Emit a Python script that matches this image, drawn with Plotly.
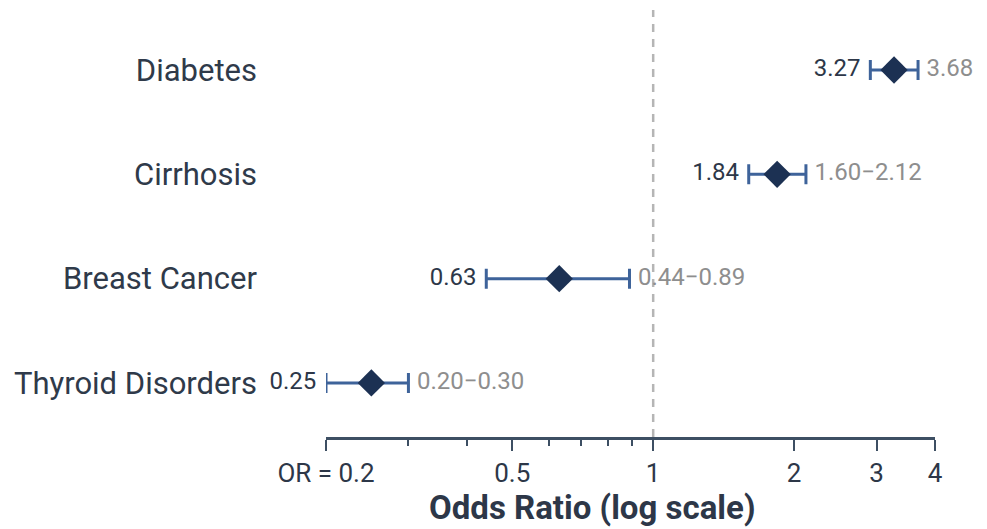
import numpy as np
import plotly.graph_objects as go

# Forest plot data: odds ratios with 95% confidence intervals
conditions = ["Thyroid Disorders", "Breast Cancer", "Cirrhosis", "Diabetes"]
odds_ratio = [0.25, 0.63, 1.84, 3.27]
ci_lower = [0.20, 0.44, 1.60, 2.91]
ci_upper = [0.30, 0.89, 2.12, 3.68]
or_labels = ["0.25", "0.63", "1.84", "3.27"]
ci_labels = ["0.20\u22120.30", "0.44\u22120.89", "1.60\u22122.12", "3.68"]

major_ticks = [0.2, 0.5, 1, 2, 3, 4]
major_tick_text = ["OR = 0.2", "0.5", "1", "2", "3", "4"]
minor_ticks = [0.3, 0.4, 0.6, 0.7, 0.8, 0.9]

FONT = "Roboto"
DARK = "#2d3748"
AXIS = "#3d4f63"
NAVY = "#1c3153"
BAR = "#3e639a"
GREY = "#8e8e8e"

rows = list(range(len(conditions)))
or_arr = np.array(odds_ratio)
lo_arr = np.array(ci_lower)
hi_arr = np.array(ci_upper)

fig = go.Figure()

# confidence interval whiskers with the point estimate as a diamond
fig.add_trace(go.Scatter(
    x=odds_ratio, y=rows, mode="markers",
    marker=dict(symbol="diamond", size=21, color=NAVY, line=dict(width=0)),
    error_x=dict(type="data", symmetric=False,
                 array=(hi_arr - or_arr).tolist(),
                 arrayminus=(or_arr - lo_arr).tolist(),
                 color=BAR, thickness=3, width=10),
    hoverinfo="skip", cliponaxis=False, showlegend=False,
))

# point-estimate labels left of each interval
fig.add_trace(go.Scatter(
    x=ci_lower, y=rows, mode="markers+text",
    marker=dict(size=14, color="rgba(0,0,0,0)"),
    text=or_labels, textposition="middle left",
    textfont=dict(family=FONT, size=24, color=DARK),
    hoverinfo="skip", cliponaxis=False, showlegend=False,
))

# interval labels right of each interval
fig.add_trace(go.Scatter(
    x=ci_upper, y=rows, mode="markers+text",
    marker=dict(size=12, color="rgba(0,0,0,0)"),
    text=ci_labels, textposition="middle right",
    textfont=dict(family=FONT, size=24, color=GREY),
    hoverinfo="skip", cliponaxis=False, showlegend=False,
))

# reference line at OR = 1
fig.add_shape(type="line", xref="x", yref="paper", x0=1, x1=1, y0=0, y1=1,
              line=dict(color="#b5b5b5", width=2.5, dash="8px,7px"), layer="below")

# axis title
fig.add_annotation(text="<b>Odds Ratio (log scale)</b>", xref="paper", yref="paper",
                   x=0.438, y=-0.164, xanchor="center", yanchor="middle",
                   showarrow=False, font=dict(family=FONT, size=33, color=DARK))

fig.update_layout(
    width=987, height=529,
    margin=dict(l=326, r=52, t=10, b=92),
    paper_bgcolor="white", plot_bgcolor="white",
    font=dict(family=FONT, color=DARK),
    showlegend=False,
    xaxis=dict(
        type="log",
        range=[np.log10(0.2), np.log10(4)],
        tickvals=major_ticks, ticktext=major_tick_text,
        tickfont=dict(family=FONT, size=26, color=DARK),
        ticks="outside", ticklen=11, tickwidth=2, tickcolor=AXIS,
        minor=dict(tickvals=minor_ticks, ticks="outside", ticklen=6,
                   tickwidth=2, tickcolor=AXIS, showgrid=False),
        showline=True, linecolor=AXIS, linewidth=2.5,
        showgrid=False, zeroline=False,
    ),
    yaxis=dict(
        range=[-0.518, 3.575],
        tickvals=rows, ticktext=conditions,
        tickfont=dict(family=FONT, size=31, color="#2f3a4a"),
        ticks="", ticklabelstandoff=68,
        showline=False, showgrid=False, zeroline=False,
    ),
)

fig.write_html("out.html")
